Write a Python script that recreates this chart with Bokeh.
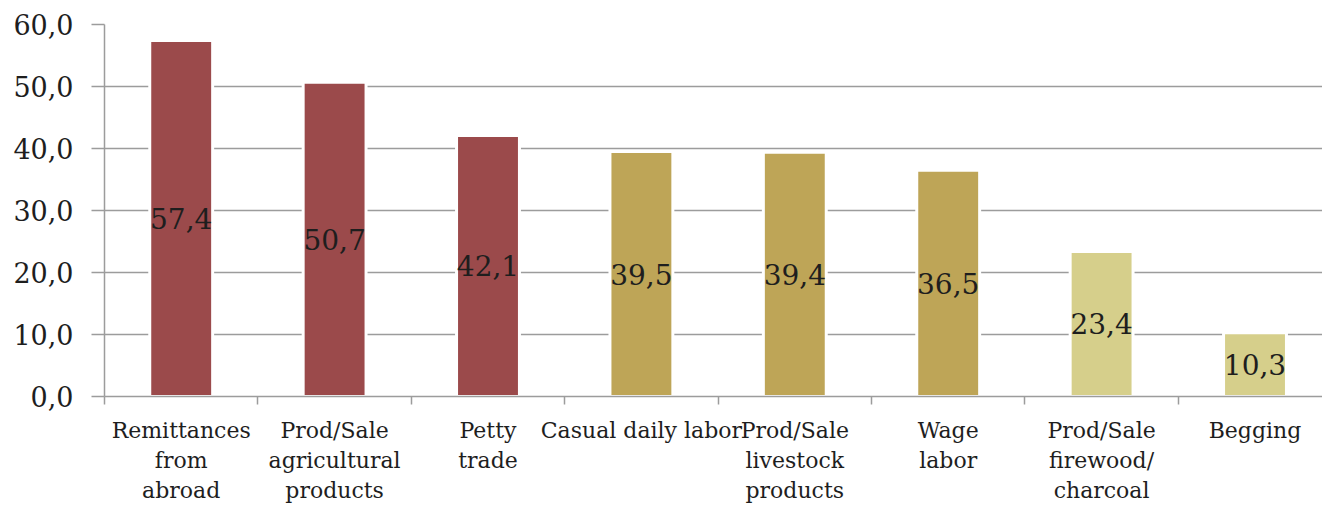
from bokeh.plotting import figure
from bokeh.models import ColumnDataSource, FixedTicker, Range1d
from bokeh.core.properties import value
from bokeh.embed import file_html
from bokeh.resources import INLINE

# Share of households by income source (%)
categories = [
    "Remittances\nfrom\nabroad",
    "Prod/Sale\nagricultural\nproducts",
    "Petty\ntrade",
    "Casual daily labor",
    "Prod/Sale\nlivestock\nproducts",
    "Wage\nlabor",
    "Prod/Sale\nfirewood/\ncharcoal",
    "Begging",
]
values = [57.4, 50.7, 42.1, 39.5, 39.4, 36.5, 23.4, 10.3]
groups = ["high", "high", "high", "mid", "mid", "mid", "low", "low"]
y_ticks = [0, 10, 20, 30, 40, 50, 60]

palette = {"high": "#9b4a4b", "mid": "#bea557", "low": "#d6cf8b"}

FONT = "DejaVu Serif"
GRID = "#9c9c9c"
TEXT = "#1e1e1e"

n = len(categories)
centers = [i + 0.5 for i in range(n)]

src = ColumnDataSource(dict(
    x=centers,
    top=values,
    mid=[v / 2 for v in values],
    color=[palette[g] for g in groups],
    label=[f"{v:.1f}".replace(".", ",") for v in values],
))

p = figure(
    width=1322, height=505,
    x_range=Range1d(0, 7.94), y_range=Range1d(0, 60),
    output_backend="svg", toolbar_location=None,
    min_border_left=104, min_border_right=0,
    min_border_top=24, min_border_bottom=109,
)
p.outline_line_color = None
p.background_fill_color = "white"
p.border_fill_color = "white"

p.vbar(x="x", top="top", width=0.41, bottom=0, source=src,
       fill_color="color", line_color="white", line_width=3)

p.text(x="x", y="mid", text="label", source=src,
       text_font=value(FONT), text_font_size="28px", text_color=TEXT,
       text_align="center", text_baseline="middle")

# horizontal grid
p.xgrid.grid_line_color = None
p.ygrid.grid_line_color = GRID
p.ygrid.grid_line_width = 1.5
p.ygrid.ticker = FixedTicker(ticks=y_ticks)

# y axis
ya = p.yaxis[0]
ya.ticker = FixedTicker(ticks=y_ticks)
ya.major_label_overrides = {t: f"{t:.1f}".replace(".", ",") for t in y_ticks}
ya.axis_line_color = GRID
ya.axis_line_width = 1.5
ya.major_tick_line_color = GRID
ya.major_tick_line_width = 1.5
ya.major_tick_out = 13
ya.major_tick_in = 0
ya.minor_tick_line_color = None
ya.major_label_standoff = 18
ya.major_label_text_font = FONT
ya.major_label_text_font_size = "27px"
ya.major_label_text_color = TEXT

# x axis: labels at category centers, tick marks at boundaries
xa = p.xaxis[0]
xa.ticker = FixedTicker(ticks=centers, minor_ticks=list(range(n)))
xa.major_label_overrides = {c: lab for c, lab in zip(centers, categories)}
xa.axis_line_color = GRID
xa.axis_line_width = 1.5
xa.major_tick_line_color = None
xa.major_tick_out = 0
xa.major_tick_in = 0
xa.minor_tick_line_color = GRID
xa.minor_tick_line_width = 1.5
xa.minor_tick_out = 8
xa.minor_tick_in = 0
xa.major_label_standoff = 13
xa.major_label_text_font = FONT
xa.major_label_text_font_size = "22px"
xa.major_label_text_color = TEXT

open("out.html", "w").write(file_html(p, INLINE))
